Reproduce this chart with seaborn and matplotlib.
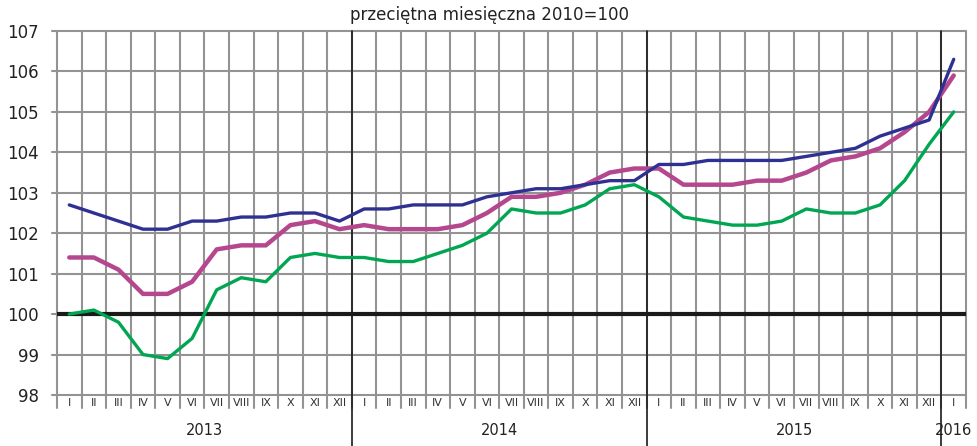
import matplotlib
matplotlib.use("Agg")
import matplotlib.pyplot as plt
import seaborn as sns
import pandas as pd
import numpy as np

months = ["I", "II", "III", "IV", "V", "VI", "VII", "VIII", "IX", "X", "XI", "XII"]
month_labels = months * 3 + ["I"]
years = ["2013", "2014", "2015", "2016"]

navy = [102.7, 102.5, 102.3, 102.1, 102.1, 102.3, 102.3, 102.4, 102.4, 102.5, 102.5, 102.3,
        102.6, 102.6, 102.7, 102.7, 102.7, 102.9, 103.0, 103.1, 103.1, 103.2, 103.3, 103.3,
        103.7, 103.7, 103.8, 103.8, 103.8, 103.8, 103.9, 104.0, 104.1, 104.4, 104.6, 104.8,
        106.3]
magenta = [101.4, 101.4, 101.1, 100.5, 100.5, 100.8, 101.6, 101.7, 101.7, 102.2, 102.3, 102.1,
           102.2, 102.1, 102.1, 102.1, 102.2, 102.5, 102.9, 102.9, 103.0, 103.2, 103.5, 103.6,
           103.6, 103.2, 103.2, 103.2, 103.3, 103.3, 103.5, 103.8, 103.9, 104.1, 104.5, 105.0,
           105.9]
green = [100.0, 100.1, 99.8, 99.0, 98.9, 99.4, 100.6, 100.9, 100.8, 101.4, 101.5, 101.4,
         101.4, 101.3, 101.3, 101.5, 101.7, 102.0, 102.6, 102.5, 102.5, 102.7, 103.1, 103.2,
         102.9, 102.4, 102.3, 102.2, 102.2, 102.3, 102.6, 102.5, 102.5, 102.7, 103.3, 104.2,
         105.0]

n = len(month_labels)
xpos = np.arange(n) + 0.5

sns.set_style("white")
plt.rcParams['font.family'] = ['DejaVu Sans']

fig = plt.figure(figsize=(9.77, 4.46), dpi=100)
W, H = 977, 446
L, R, T, B = 57, 966, 31, 395
ax = fig.add_axes([L / W, 1 - B / H, (R - L) / W, (B - T) / H])

grid_c = "#939393"
# grid
for y in range(98, 108):
    ax.plot([-0.2, n], [y, y], color=grid_c, lw=1.5, clip_on=False, zorder=1)
ybot = 98 - (408 - 395) / 40.44
for xv in range(0, n + 1):
    ax.plot([xv, xv], [ybot, 107], color=grid_c, lw=1.5, clip_on=False, zorder=1)
ax.axhline(100, color="#1a1a1a", lw=3, zorder=2)
yfig_bottom = 98 - (446 - 395) / 40.44
for xv in [12, 24, 36]:
    ax.plot([xv, xv], [yfig_bottom, 107], color="#1a1a1a", lw=1.2, clip_on=False, zorder=3)

df = pd.DataFrame({"x": xpos, "navy": navy, "magenta": magenta, "green": green})
sns.lineplot(data=df, x="x", y="green", color="#00a651", lw=2.4, ax=ax, zorder=4)
sns.lineplot(data=df, x="x", y="magenta", color="#b5478e", lw=3.2, ax=ax, zorder=5)
sns.lineplot(data=df, x="x", y="navy", color="#2e3192", lw=2.4, ax=ax, zorder=6)

ax.set_xlim(0, n)
ax.set_ylim(98, 107)
ax.set_yticks(range(98, 108))
ax.set_yticklabels([str(v) for v in range(98, 108)], fontsize=12, color="#222222")
ax.tick_params(axis="y", length=0, pad=13)
ax.set_xticks([])
ax.set_xlabel("")
ax.set_ylabel("")
for s in ax.spines.values():
    s.set_visible(False)

ylab = 98 - (403 - 395) / 40.44
for xv, lab in zip(xpos, month_labels):
    ax.text(xv, ylab, lab, ha="center", va="center", fontsize=8, color="#333333",
            clip_on=False, bbox=dict(facecolor="white", edgecolor="none", pad=0.3))
yyear = 98 - (430 - 395) / 40.44
for xc, yr in zip([6, 18, 30, 36.5], years):
    ax.text(xc, yyear, yr, ha="center", va="center", fontsize=10.5, color="#222222", clip_on=False)

fig.text(490 / W, 1 - 15 / H, "przeciętna miesięczna 2010=100", ha="center", va="center",
         fontsize=12, color="#222222")

fig.savefig("out.png", dpi=100)
